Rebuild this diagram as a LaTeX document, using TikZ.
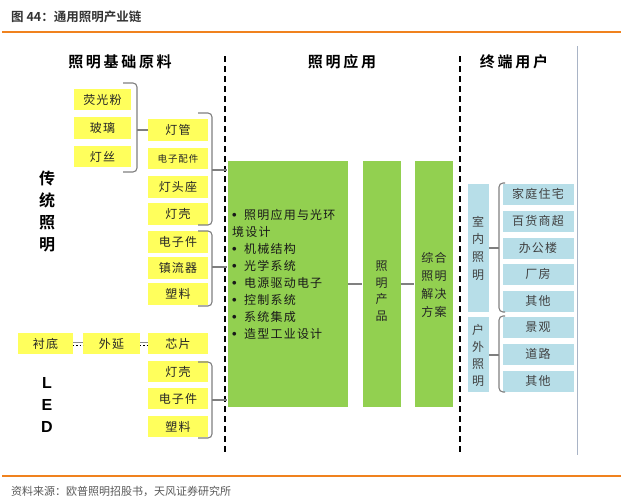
\documentclass[tikz,border=0pt]{standalone}
\usepackage{fontspec}
\setmainfont{Noto Sans CJK SC}[BoldFont={Noto Sans CJK SC Bold}]
\newfontfamily\cjk{Noto Sans CJK SC}[BoldFont={Noto Sans CJK SC Bold}]
\newfontfamily\cjkhead{Noto Sans CJK SC Bold}[LetterSpace=18]
\newfontfamily\cjkbox{Noto Sans CJK SC}[LetterSpace=10]
\newfontfamily\latinb{Liberation Sans}[BoldFont={Liberation Sans Bold}]
\newcommand{\bul}{\makebox[12pt][l]{\latinb\bfseries\fontsize{13}{13}\selectfont •}}
\definecolor{ylw}{HTML}{FFFF5C}
\definecolor{grn}{HTML}{92D050}
\definecolor{blu}{HTML}{B7DEE8}
\definecolor{org}{HTML}{F0821E}
\definecolor{brc}{HTML}{7F7F7F}
\definecolor{vline}{HTML}{A9B4C6}
\begin{document}
\begin{tikzpicture}[x=1pt,y=-1pt,
  ybox/.style={fill=ylw,draw=none,minimum width=60pt,minimum height=21.5pt,inner sep=0pt,
     font=\cjkbox\fontsize{12}{12}\selectfont,text=black!85},
  gbox/.style={fill=grn,draw=white,line width=0.6pt,inner sep=0pt},
  bbox/.style={fill=blu,draw=white,line width=0.6pt,minimum width=72pt,minimum height=22pt,inner sep=0pt,
     font=\cjkbox\fontsize{12}{12}\selectfont,text=black!75},
  brace/.style={draw=brc,line width=1.1pt,rounded corners=4pt},
  tick/.style={draw=brc,line width=1.1pt},
  head/.style={font=\cjkhead\fontsize{15}{15}\selectfont,text=black},
  sep/.style={draw=black,line width=1.6pt,dash pattern=on 6pt off 4pt},
  link/.style={draw=black!50,line width=1.6pt},
  vtext/.style={align=center,inner sep=0pt}
]
\useasboundingbox (0,0) rectangle (627,498);
% title and rules
\node[anchor=west,inner sep=0pt,font=\cjk\bfseries\fontsize{12.5}{12.5}\selectfont,text=black!80] (title) at (11,17) {图 44：通用照明产业链};
\coordinate (tl1) at (2,32); \coordinate (tl2) at (621,32);
\draw[org,line width=1.2pt] (tl1) -- (tl2);
\coordinate (bl1) at (2,476); \coordinate (bl2) at (621,476);
\draw[org,line width=1.2pt] (bl1) -- (bl2);
\node[anchor=west,inner sep=0pt,font=\cjk\fontsize{11}{11}\selectfont,text=black!65] (src) at (11,491) {资料来源：欧普照明招股书，天风证券研究所};

% headers
\node[head] (h1) at (120,62) {照明基础原料};
\node[head] (h2) at (342,62) {照明应用};
\node[head] (h3) at (514,62) {终端用户};

% separators
\coordinate (s1a) at (225,56); \coordinate (s1b) at (225,455);
\coordinate (s2a) at (460,56); \coordinate (s2b) at (460,455);
\draw[sep] (s1a) -- (s1b);
\draw[sep] (s2a) -- (s2b);
\coordinate (v1) at (577,46); \coordinate (v2) at (577,455);
\draw[vline,line width=1pt] (v1) -- (v2);

% left side labels
\node[vtext,font=\cjk\bfseries\fontsize{16}{22}\selectfont] (trad) at (47,212) {传\\统\\照\\明};
\node[vtext,font=\latinb\bfseries\fontsize{16}{22}\selectfont] (led) at (47,405) {L\\E\\D};

% column 1
\node[ybox,minimum width=57pt] (yg) at (102.5,99.5) {荧光粉};
\node[ybox,minimum width=57pt] (bl) at (102.5,128) {玻璃};
\node[ybox,minimum width=57pt] (ds) at (102.5,156.5) {灯丝};

% column 2
\node[ybox] (dg) at (178,130) {灯管};
\node[ybox,font=\cjkbox\fontsize{9.5}{9.5}\selectfont] (dzpj) at (178,158.5) {电子配件};
\node[ybox] (dtz) at (178,187) {灯头座};
\node[ybox] (dk) at (178,214) {灯壳};
\node[ybox] (dzj) at (178,242) {电子件};
\node[ybox] (zlq) at (178,268) {镇流器};
\node[ybox] (sl) at (178,294) {塑料};
\node[ybox] (xp) at (178,343.5) {芯片};
\node[ybox] (dk2) at (178,371.5) {灯壳};
\node[ybox] (dzj2) at (178,398.5) {电子件};
\node[ybox] (sl2) at (178,426.5) {塑料};

% LED chain
\node[ybox,minimum width=55pt] (cd) at (45.5,343.5) {衬底};
\node[ybox,minimum width=57pt] (wy) at (111.5,343.5) {外延};
\draw[black,line width=1.2pt,dotted] ([yshift=-1.8pt]cd.east) -- ([yshift=-1.8pt]wy.west);
\draw[black!45,line width=1pt] ([yshift=1.2pt]cd.east) -- ([yshift=1.2pt]wy.west);
\draw[black,line width=1.2pt,dotted] ([yshift=-1.8pt]wy.east) -- ([yshift=-1.8pt]xp.west);
\draw[black!45,line width=1pt] ([yshift=1.2pt]wy.east) -- ([yshift=1.2pt]xp.west);

% green column
\node[gbox,minimum width=121pt,minimum height=247pt] (app) at (287.5,283.5) {};
\node[anchor=north west,align=left,inner sep=0pt,font=\cjkbox\fontsize{12}{17}\selectfont,text=black!90] (applist) at (232,209)
 {\bul 照明应用与光环\\境设计\\\bul 机械结构\\\bul 光学系统\\\bul 电源驱动电子\\\bul 控制系统\\\bul 系统集成\\\bul 造型工业设计};
\node[gbox,minimum width=39pt,minimum height=247pt] (prod) at (381.5,283.5) {};
\node[vtext,font=\cjk\fontsize{12}{16.5}\selectfont,text=black!85] (prodt) at (381.5,291) {照\\明\\产\\品};
\node[gbox,minimum width=39pt,minimum height=247pt] (sol) at (433.5,283.5) {};
\node[vtext,font=\cjkbox\fontsize{12}{18}\selectfont,text=black!85] (solt) at (434,285) {综合\\照明\\解决\\方案};
\draw[link] (app.east |- 0,284) -- (prod.west |- 0,284);
\draw[link] (prod.east |- 0,284) -- (sol.west |- 0,284);

% braces left
\draw[brace] (123,83) -- (137,83) -- (137,172) -- (123,172);
\draw[tick] (137,130) -- (dg.west);
\draw[brace] (198,113) -- (212,113) -- (212,225) -- (198,225);
\draw[tick] (212,170) -- (app.west |- 0,170);
\draw[brace] (198,231) -- (212,231) -- (212,306) -- (198,306);
\draw[tick] (212,267) -- (app.west |- 0,267);
\draw[brace] (198,362) -- (212,362) -- (212,438) -- (198,438);
\draw[tick] (212,400) -- (app.west |- 0,400);

% end users
\node[gbox,fill=blu,minimum width=22pt,minimum height=129pt] (indoor) at (478,247.5) {};
\node[vtext,font=\cjk\fontsize{12}{17.7}\selectfont,text=black!75] (indoort) at (478,248) {室\\内\\照\\明};
\node[gbox,fill=blu,minimum width=22pt,minimum height=76pt] (outdoor) at (478,354) {};
\node[vtext,font=\cjk\fontsize{12}{17}\selectfont,text=black!75] (outdoort) at (478,355) {户\\外\\照\\明};

\node[bbox] (u1) at (538,194) {家庭住宅};
\node[bbox] (u2) at (538,221) {百货商超};
\node[bbox] (u3) at (538,248) {办公楼};
\node[bbox] (u4) at (538,274) {厂房};
\node[bbox] (u5) at (538,301) {其他};
\node[bbox] (u6) at (538,327.5) {景观};
\node[bbox] (u7) at (538,354) {道路};
\node[bbox] (u8) at (538,381) {其他};

\draw[brace] (505,183) -- (499,183) -- (499,312) -- (505,312);
\draw[tick] (499,248) -- (indoor.east |- 0,248);
\draw[brace] (505,316) -- (499,316) -- (499,392) -- (505,392);
\draw[tick] (499,355) -- (outdoor.east |- 0,355);
\end{tikzpicture}
\end{document}
